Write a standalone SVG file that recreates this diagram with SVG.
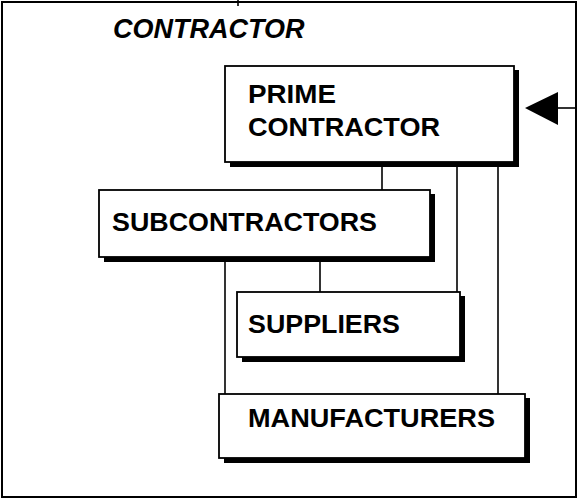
<svg xmlns="http://www.w3.org/2000/svg" width="579" height="499" viewBox="0 0 579 499">
  <style>
    .frame { fill: #fff; stroke: #000; stroke-width: 2; }
    .box { fill: #fff; stroke: #000; stroke-width: 1.8; }
    .shadow { fill: #000; }
    .lbl { font-family: "Liberation Sans", Arial, sans-serif; font-weight: bold; font-size: 26.5px; fill: #000; }
    .title { font-family: "Liberation Sans", Arial, sans-serif; font-weight: bold; font-style: italic; font-size: 27px; fill: #000; }
    .wire { fill: none; stroke: #000; stroke-width: 1.6; }
  </style>
  <rect width="579" height="499" fill="#fff"/>

  <!-- outer contractor boundary -->
  <g id="contractor">
    <rect class="frame" x="2" y="2" width="574" height="495"/>
    <line class="wire" x1="238" y1="0" x2="238" y2="6"/>
    <text class="title" x="113" y="38">CONTRACTOR</text>
  </g>

  <!-- connectors -->
  <g id="connectors">
    <line class="wire" x1="382" y1="162" x2="382" y2="190"/>
    <line class="wire" x1="457" y1="162" x2="457" y2="292"/>
    <line class="wire" x1="498" y1="162" x2="498" y2="394"/>
    <line class="wire" x1="320" y1="257" x2="320" y2="292"/>
    <line class="wire" x1="225" y1="257" x2="225" y2="394"/>
    <line class="wire" x1="576" y1="108" x2="556" y2="108"/>
    <polygon points="525,108 558,92 558,125" fill="#000"/>
  </g>

  <g id="prime-contractor">
    <rect class="shadow" x="230" y="70" width="289" height="97"/>
    <rect class="box" x="225" y="66" width="289" height="96"/>
    <text class="lbl" x="248" y="103" textLength="88" lengthAdjust="spacingAndGlyphs">PRIME</text>
    <text class="lbl" x="248" y="136" textLength="192" lengthAdjust="spacingAndGlyphs">CONTRACTOR</text>
  </g>

  <g id="subcontractors">
    <rect class="shadow" x="104" y="194" width="331" height="68"/>
    <rect class="box" x="99" y="190" width="331" height="67"/>
    <text class="lbl" x="112" y="231" textLength="265" lengthAdjust="spacingAndGlyphs">SUBCONTRACTORS</text>
  </g>

  <g id="suppliers">
    <rect class="shadow" x="242" y="296" width="223" height="66"/>
    <rect class="box" x="237" y="292" width="223" height="65"/>
    <text class="lbl" x="248" y="333" textLength="152" lengthAdjust="spacingAndGlyphs">SUPPLIERS</text>
  </g>

  <g id="manufacturers">
    <rect class="shadow" x="224" y="398" width="306" height="65"/>
    <rect class="box" x="219" y="394" width="306" height="64"/>
    <text class="lbl" x="248" y="427" textLength="247" lengthAdjust="spacingAndGlyphs">MANUFACTURERS</text>
  </g>
</svg>
